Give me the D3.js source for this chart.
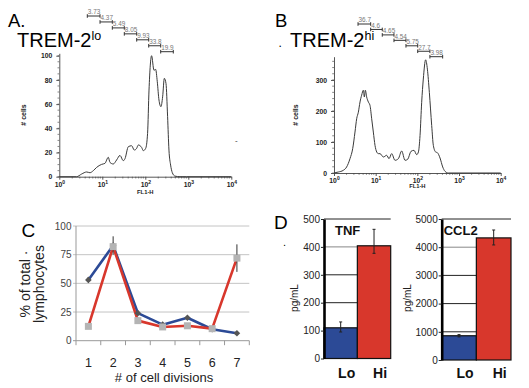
<!DOCTYPE html>
<html><head><meta charset="utf-8">
<script src="https://cdn.jsdelivr.net/npm/d3@7"></script>
<style>
body{margin:0;background:#fff}
svg{display:block}
text{font-family:"Liberation Sans",Arial,Helvetica,sans-serif}
</style></head>
<body><svg id="c" width="529" height="388"></svg>
<script>
// ---------- DATA ----------
// Panel A: TREM-2 lo histogram (FL1-H value, # cells)
const histAValues = [1,2.53,3.30,4.33,5.16,6.18,7.38,9.64,11.5,13.8,15.1,18.0,21.5,25.8,30.8,33.7,40.3,48.1,55.5,62.8,68.7,82.2,89.7,102,113,122,140,159,174,190,208,231,253,277,303,330,355,388,425,490,640,914,10000];
const histACounts = [0,0,2.2,3.9,3.3,5,7.7,10.2,11,16,11.8,10.5,13.8,17.6,13.2,14.9,24.8,25.6,22,23.4,26.2,24.2,21.5,23.4,35.8,71.6,100,88,88.7,78.5,63.4,57.9,66,81.3,77,49.6,22,9.6,3.3,0.5,0,0,0];
const gatesA = [4.48,8.85,17.1,32.5,63.1,120,228,448];
const gateLabelsA = ["3.73","4.37","5.49","8.05","9.93","33.8","19.9"];
const yTicksA = [0,20,40,60,80,100];

// Panel B: TREM-2 hi histogram
const histBValues = [1,1.27,1.67,2.01,2.42,2.81,3.19,3.50,3.84,4.21,4.61,5.06,5.35,5.65,6.08,6.67,7.31,8.02,8.79,9.64,10.6,11.6,12.7,15.3,18.4,20.9,24.2,29.1,35.0,42.1,50.6,58.6,70.5,83.2,96.4,106,116,127,139,158,174,194,221,242,275,302,350,406,461,555,10000];
const histBCounts = [0,3.2,8.6,19.4,46.2,78.5,132,175,196,229,251,267,245,267,245,229,218,175,132,89,67.7,62.4,62.4,51.6,57,46.2,62.4,40.9,46.2,71,40.9,44.1,69.9,73.1,59.1,67.7,121,228,303,365,335,260,153,89,67.7,65.6,48.4,19.4,5.4,0,0];
const gatesB = [3.77,7.59,14.4,27.5,53.3,102,200,405];
const gateLabelsB = ["36.7","4.6","4.65","4.54","5.75","27.7","3.98"];
const yTicksB = [0,100,200,300];
const xTicksHist = [1,10,100,1000,10000];

// Panel C: % of total lymphocytes vs # of cell divisions
const divisions = [1,2,3,4,5,6,7];
const loPct = [53,83,24,14,20,10,6.5];
const hiPct = [12.5,82,17.5,12,13,10.5,72];
const loErr = [2.5,8,0,0,0,0,0];
const hiErr = [0,0,0,0,0,0,12];
const yTicksC = [0,25,50,75,100];

// Panel D: cytokines (pg/mL), one entry per group (Lo, Hi)
const groups = ["Lo","Hi"];
const tnf = [110,404];
const tnfLow = [95,377];
const tnfHigh = [131,463];
const ccl2 = [860,4330];
const ccl2Low = [820,4080];
const ccl2High = [900,4610];
const yTicksTNF = [0,100,200,300,400,500];
const yTicksCCL2 = [0,1000,2000,3000,4000,5000];

// ---------- DRAW ----------
const svg = d3.select("#c");
const BLUE = "#2c4a96", RED = "#d8372c";

function text(x,y,str,opt={}){
  const t = svg.append("text").attr("x",x).attr("y",y).text(str);
  for (const k in opt) t.attr(k,opt[k]);
  return t;
}

function hist(cfg){
  const x = d3.scaleLog().domain([1,10000]).range(cfg.xr);
  const y = d3.scaleLinear().domain([0,cfg.ymax]).range(cfg.yr);
  const g = svg.append("g");
  const minor = [];
  for (let k=0;k<4;k++) for (let m=2;m<10;m++) minor.push(m*Math.pow(10,k));
  g.selectAll("line.mx").data(minor).join("line")
    .attr("x1",d=>x(d)).attr("x2",d=>x(d)).attr("y1",cfg.yr[0]).attr("y2",cfg.yr[0]+1.8)
    .attr("stroke","#555").attr("stroke-width",0.7);
  const minorY = d3.range(0,cfg.ymax,cfg.yMinor);
  g.selectAll("line.my").data(minorY).join("line")
    .attr("x1",cfg.xr[0]-1.8).attr("x2",cfg.xr[0]).attr("y1",d=>y(d)).attr("y2",d=>y(d))
    .attr("stroke","#555").attr("stroke-width",0.7);
  const ya = g.append("g").attr("transform",`translate(${cfg.xr[0]},0)`)
    .call(d3.axisLeft(y).tickValues(cfg.yticks).tickSize(3).tickSizeOuter(0).tickPadding(4));
  const xa = g.append("g").attr("transform",`translate(0,${cfg.yr[0]})`)
    .call(d3.axisBottom(x).tickValues(xTicksHist).tickSize(3).tickSizeOuter(0).tickPadding(2));
  [ya,xa].forEach(a=>{
    a.selectAll("path,line").attr("stroke","#444").attr("stroke-width",0.9);
    a.selectAll("text").attr("font-size",6.8).attr("font-weight","bold").attr("fill","#222")
      .attr("font-family",'"Liberation Sans",Arial,sans-serif');
  });
  xa.selectAll(".tick text").each(function(d){
    const t = d3.select(this);
    t.text("10");
    t.append("tspan").attr("dy",-2.5).attr("font-size",5).text(Math.round(Math.log10(d)));
  });
  const line = d3.line().x(d=>x(d[0])).y(d=>y(d[1])).curve(d3.curveMonotoneX);
  g.append("path").datum(d3.zip(cfg.values,cfg.counts)).attr("d",line)
    .attr("fill","none").attr("stroke","#3a3a3a").attr("stroke-width",1).attr("stroke-linejoin","round");
  cfg.labels.forEach((lab,i)=>{
    const x1 = x(cfg.gates[i]), x2 = x(cfg.gates[i+1]);
    const gy = cfg.gy0 + i*cfg.gstep;
    g.append("path").attr("d",`M${x1},${gy-1.8}V${gy+1.8}M${x1},${gy}H${x2}M${x2},${gy-1.8}V${gy+1.8}`)
      .attr("stroke","#333").attr("stroke-width",1).attr("fill","none");
    g.append("text").attr("x",x1+0.5).attr("y",gy-1.6).text(lab)
      .attr("font-size",6.4).attr("fill","#777");
  });
  g.append("text").attr("transform",`translate(${cfg.ylabX},${cfg.ylabY}) rotate(-90)`)
    .attr("text-anchor","middle").attr("font-size",7).attr("font-weight","bold").attr("fill","#222").text("# cells");
  g.append("text").attr("x",x(100)).attr("y",cfg.flY).attr("text-anchor","middle")
    .attr("font-size",5.8).attr("font-weight","bold").attr("fill","#222").text("FL1-H");
}

hist({xr:[59.3,231.3], yr:[176.7,53.3], ymax:102, yticks:yTicksA, yMinor:5,
  values:histAValues, counts:histACounts, gates:gatesA, labels:gateLabelsA,
  gy0:16, gstep:5.95, ylabX:26, ylabY:115, flY:194});
hist({xr:[334,500.7], yr:[173,56.7], ymax:375, yticks:yTicksB, yMinor:20,
  values:histBValues, counts:histBCounts, gates:gatesB, labels:gateLabelsB,
  gy0:24, gstep:5.45, ylabX:298, ylabY:115, flY:188});

text(8,26.7,"A.",{"font-size":18.5});
const tA = text(17,46.7,"TREM-2",{"font-size":20});
tA.append("tspan").attr("dy",-6.5).attr("font-size",12.5).text("lo");
text(275,26.7,"B",{"font-size":18.5});
text(278.5,46.7,".",{"font-size":12});
const tB = text(290,46.7,"TREM-2",{"font-size":20});
tB.append("tspan").attr("dy",-6.5).attr("font-size",12.5).text("hi");
text(235,143,"-",{"font-size":8,"fill":"#333"});

// ---------- Panel C ----------
{
  const x = d3.scaleBand().domain(divisions).range([76,249.3]);
  const y = d3.scaleLinear().domain([0,100]).range([340.7,226]);
  const g = svg.append("g");
  g.selectAll("line.grid").data(yTicksC).join("line")
    .attr("x1",73).attr("x2",249.3).attr("y1",d=>y(d)).attr("y2",d=>y(d))
    .attr("stroke",d=>d===0?"#999":"#c4c4c4").attr("stroke-width",1);
  g.append("line").attr("x1",76).attr("x2",76).attr("y1",y(100)).attr("y2",y(0)).attr("stroke","#999");
  const bounds = d3.range(divisions.length+1).map(i=>76 + i*x.step());
  g.selectAll("line.xt").data(bounds).join("line")
    .attr("x1",d=>d).attr("x2",d=>d).attr("y1",y(0)).attr("y2",y(0)+4.5).attr("stroke","#999");
  g.selectAll("text.yt").data(yTicksC).join("text")
    .attr("x",71.5).attr("y",d=>y(d)+3.5).attr("text-anchor","end").attr("font-size",10).attr("fill","#444").text(d=>d);
  g.selectAll("text.xl").data(divisions).join("text")
    .attr("x",d=>x(d)+x.bandwidth()/2).attr("y",366.5).attr("text-anchor","middle").attr("font-size",12.5).attr("fill","#222").text(d=>d);
  text(164,381.5,"# of cell divisions",{"font-size":13,"text-anchor":"middle","fill":"#222"});
  svg.append("text").attr("transform","translate(30,284) rotate(-90)").attr("text-anchor","middle")
    .attr("font-size",14).attr("fill","#222").text("% of total \u00b7");
  svg.append("text").attr("transform","translate(44,284) rotate(-90)").attr("text-anchor","middle")
    .attr("font-size",14).attr("fill","#222").text("lymphocytes");
  text(21.5,236.7,"C",{"font-size":19});

  const cx = d=>x(d)+x.bandwidth()/2;
  const ln = d3.line().x((d,i)=>cx(divisions[i])).y(d=>y(d));
  g.append("path").attr("d",ln(loPct)).attr("fill","none").attr("stroke",BLUE).attr("stroke-width",2.6).attr("stroke-linejoin","round");
  g.append("path").attr("d",ln(hiPct)).attr("fill","none").attr("stroke",RED).attr("stroke-width",2.6).attr("stroke-linejoin","round");
  const eb = (vals,errs)=>vals.forEach((v,i)=>{ if(errs[i]>0){
    g.append("line").attr("x1",cx(divisions[i])).attr("x2",cx(divisions[i]))
      .attr("y1",y(v-errs[i])).attr("y2",y(v+errs[i])).attr("stroke","#333").attr("stroke-width",1);
  }});
  eb(loPct,loErr); eb(hiPct,hiErr);
  g.selectAll("path.dm").data(loPct).join("path")
    .attr("d",(d,i)=>{const px=cx(divisions[i]),py=y(d),r=3.3;return `M${px},${py-r}L${px+r},${py}L${px},${py+r}L${px-r},${py}Z`;})
    .attr("fill","#555");
  g.selectAll("rect.sq").data(hiPct).join("rect")
    .attr("x",(d,i)=>cx(divisions[i])-3.5).attr("y",d=>y(d)-3.5).attr("width",7).attr("height",7)
    .attr("fill","#b4b4b4");
}

// ---------- Panel D ----------
function barPanel(cfg){
  const x = d3.scaleBand().domain(groups).range(cfg.xr);
  const y = d3.scaleLinear().domain(cfg.domain).range(cfg.yr);
  const g = svg.append("g");
  g.selectAll("line.grid").data(cfg.ticks.slice(1)).join("line")
    .attr("x1",cfg.xr[0]).attr("x2",cfg.xr[1]).attr("y1",d=>y(d)).attr("y2",d=>y(d))
    .attr("stroke",(d,i)=>i===cfg.ticks.length-3?"#888":"#222").attr("stroke-width",1);
  g.selectAll("rect").data(cfg.values).join("rect")
    .attr("x",(d,i)=>x(groups[i])).attr("width",x.bandwidth())
    .attr("y",d=>y(d)).attr("height",d=>y(0)-y(d))
    .attr("fill",(d,i)=>i===0?BLUE:RED).attr("stroke","#111").attr("stroke-width",1.2);
  cfg.values.forEach((v,i)=>{
    const px = x(groups[i])+x.bandwidth()/2;
    g.append("path").attr("d",`M${px},${y(cfg.low[i])}V${y(cfg.high[i])}M${px-1.5},${y(cfg.low[i])}H${px+1.5}M${px-1.5},${y(cfg.high[i])}H${px+1.5}`)
      .attr("stroke","#222").attr("stroke-width",1).attr("fill","none");
  });
  const ax = g.append("g").attr("transform",`translate(${cfg.xr[0]},0)`)
    .call(d3.axisLeft(y).tickValues(cfg.ticks).tickFormat(d3.format("d")).tickSize(3).tickSizeOuter(0).tickPadding(1));
  ax.select(".domain").attr("stroke","#000").attr("stroke-width",2.6);
  ax.selectAll(".tick line").attr("stroke","#222");
  ax.selectAll("text").attr("font-size",10).attr("fill","#222").attr("font-family",'"Liberation Sans",Arial,sans-serif');
  g.selectAll("text.gl").data(groups).join("text")
    .attr("x",d=>x(d)+x.bandwidth()/2+6).attr("y",377.5).attr("text-anchor","middle")
    .attr("font-size",14).attr("font-weight","bold").attr("fill","#111").text(d=>d);
  g.append("text").attr("x",cfg.xr[0]+cfg.titleDx).attr("y",234.5).attr("font-size",13)
    .attr("font-weight","bold").attr("fill","#111").text(cfg.title);
  g.append("text").attr("transform",`translate(${cfg.unitX},298) rotate(-90)`).attr("text-anchor","middle")
    .attr("font-size",10).attr("fill","#222").text("pg/mL");
}
barPanel({xr:[324,390.7], yr:[358.5,219], domain:[0,500], ticks:yTicksTNF, values:tnf, low:tnfLow, high:tnfHigh,
  title:"TNF", titleDx:11, unitX:298});
barPanel({xr:[441.7,511], yr:[360,219], domain:[0,5000], ticks:yTicksCCL2, values:ccl2, low:ccl2Low, high:ccl2High,
  title:"CCL2", titleDx:2, unitX:411});
text(274,229,"D",{"font-size":19});
text(283,246,".",{"font-size":11});
</script></body></html>
